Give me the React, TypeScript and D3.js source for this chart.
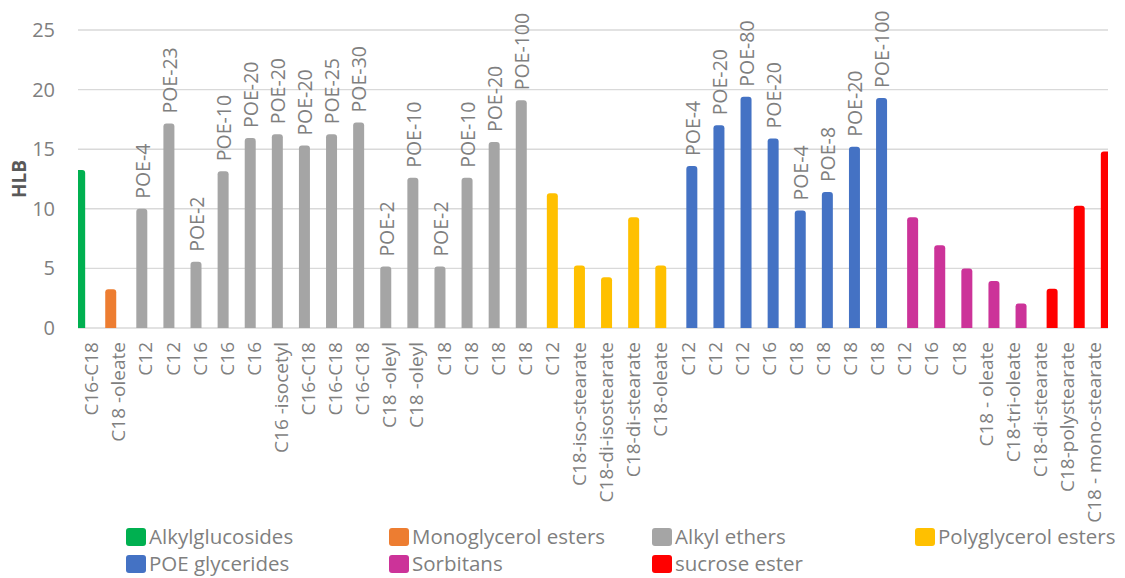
import React from "react";
import * as d3 from "d3";

const categories = [
  "C16-C18", "C18 -oleate",
  "C12", "C12", "C16", "C16", "C16", "C16 -isocetyl", "C16-C18", "C16-C18", "C16-C18",
  "C18 -oleyl", "C18 -oleyl", "C18", "C18", "C18", "C18",
  "C12", "C18-iso-stearate", "C18-di-isostearate", "C18-di-stearate", "C18-oleate",
  "C12", "C12", "C12", "C16", "C18", "C18", "C18", "C18",
  "C12", "C16", "C18", "C18 - oleate", "C18-tri-oleate",
  "C18-di-stearate", "C18-polystearate", "C18 - mono-stearate",
];

const poeLabels = [
  "", "",
  "POE-4", "POE-23", "POE-2", "POE-10", "POE-20", "POE-20", "POE-20", "POE-25", "POE-30",
  "POE-2", "POE-10", "POE-2", "POE-10", "POE-20", "POE-100",
  "", "", "", "", "",
  "POE-4", "POE-20", "POE-80", "POE-20", "POE-4", "POE-8", "POE-20", "POE-100",
  "", "", "", "", "",
  "", "", "",
];

const hlbValues = [
  13.25, 3.25,
  10.0, 17.15, 5.55, 13.15, 15.95, 16.25, 15.3, 16.25, 17.25,
  5.15, 12.6, 5.15, 12.6, 15.6, 19.1,
  11.3, 5.25, 4.25, 9.3, 5.25,
  13.6, 17.0, 19.4, 15.9, 9.85, 11.4, 15.2, 19.3,
  9.3, 6.95, 5.0, 3.95, 2.05,
  3.3, 10.25, 14.8,
];

const seriesOfBar = [
  0, 1,
  2, 2, 2, 2, 2, 2, 2, 2, 2, 2, 2, 2, 2, 2, 2,
  3, 3, 3, 3, 3,
  4, 4, 4, 4, 4, 4, 4, 4,
  5, 5, 5, 5, 5,
  6, 6, 6,
];

const seriesNames = [
  "Alkylglucosides", "Monoglycerol esters", "Alkyl ethers", "Polyglycerol esters",
  "POE glycerides", "Sorbitans", "sucrose ester",
];
const seriesColors = ["#00b050", "#ed7d31", "#a5a5a5", "#ffc000", "#4472c4", "#cc3399", "#ff0000"];

const yTicks = [0, 5, 10, 15, 20, 25];

const W = 1125;
const H = 578;
const plotLeft = 78;
const plotRight = 1108;
const plotTop = 30;
const plotBottom = 328;
const FONT = "'Open Sans', 'Noto Sans', sans-serif";
const TEXT = "#7f7f7f";

export default function App() {
  const x = d3
    .scaleBand<number>()
    .domain(d3.range(categories.length))
    .range([plotLeft, plotRight])
    .paddingInner(0)
    .paddingOuter(0);
  const y = d3.scaleLinear().domain([0, 25]).range([plotBottom, plotTop]);
  const barW = 11;
  const seriesShift = 3.96;
  const barCenter = (i: number) =>
    (x(i) as number) + x.bandwidth() / 2 + (seriesOfBar[i] - 3) * seriesShift;

  return (
    <svg
      width={W}
      height={H}
      style={{ position: "absolute", left: 0, top: 0, display: "block", background: "#fff" }}
      fontFamily={FONT}
    >
      <defs>
        <clipPath id="plotClip">
          <rect x={plotLeft} y={0} width={plotRight - plotLeft} height={plotBottom} />
        </clipPath>
      </defs>
      {/* gridlines */}
      {yTicks.map((t) => (
        <line
          key={"g" + t}
          x1={plotLeft}
          x2={plotRight}
          y1={y(t)}
          y2={y(t)}
          stroke="#d9d9d9"
          strokeWidth={1.4}
        />
      ))}
      {/* y tick labels */}
      {yTicks.map((t) => (
        <text
          key={"t" + t}
          x={55}
          y={y(t)}
          dy="0.35em"
          textAnchor="end"
          fontSize={20}
          fill={TEXT}
        >
          {t}
        </text>
      ))}
      {/* y axis title */}
      <text
        transform={`translate(19.5,179) rotate(-90)`}
        textAnchor="middle"
        dy="0.35em"
        fontSize={19}
        fontWeight="bold"
        fill="#595959"
      >
        HLB
      </text>
      {/* bars */}
      <g clipPath="url(#plotClip)">
        {hlbValues.map((v, i) => (
          <rect
            key={"b" + i}
            x={barCenter(i) - barW / 2}
            y={y(v)}
            width={barW}
            height={y(0) - y(v) + 6}
            rx={3}
            fill={seriesColors[seriesOfBar[i]]}
          />
        ))}
      </g>
      {/* data labels */}
      {hlbValues.map((v, i) =>
        poeLabels[i] ? (
          <text
            key={"d" + i}
            transform={`translate(${barCenter(i) + 1},${y(v) - 10}) rotate(-90)`}
            dy="0.35em"
            textAnchor="start"
            fontSize={19.5}
            fill={TEXT}
          >
            {poeLabels[i]}
          </text>
        ) : null
      )}
      {/* category labels */}
      {categories.map((c, i) => (
        <text
          key={"c" + i}
          transform={`translate(${(x(i) as number) + x.bandwidth() / 2},342) rotate(-90)`}
          dy="0.35em"
          textAnchor="end"
          fontSize={19}
          fill={TEXT}
          style={{ whiteSpace: "pre" }}
        >
          {c}
        </text>
      ))}
      {/* legend */}
      {seriesNames.map((n, k) => {
        const col = k < 4 ? k : k - 4;
        const row = k < 4 ? 0 : 1;
        const lx = 126 + col * 263;
        const ly = row === 0 ? 528 : 555;
        return (
          <g key={"l" + k}>
            <rect x={lx} y={ly} width={20} height={18} rx={3} fill={seriesColors[k]} />
            <text x={lx + 23} y={ly + 15.5} fontSize={20.5} fill={TEXT}>
              {n}
            </text>
          </g>
        );
      })}
    </svg>
  );
}
